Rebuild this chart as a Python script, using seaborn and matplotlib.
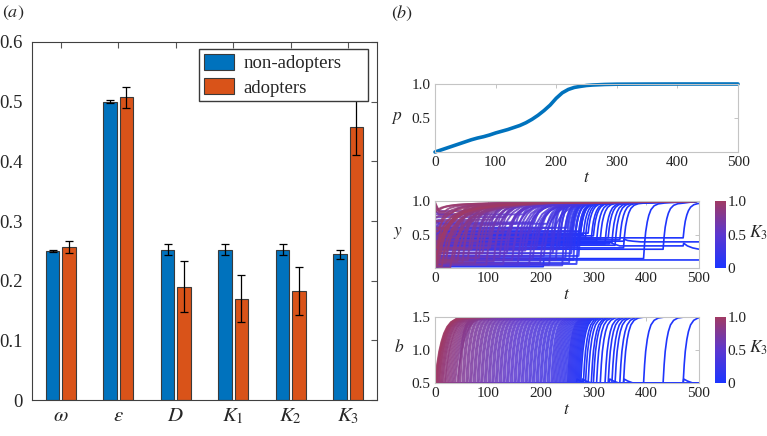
import matplotlib
matplotlib.use("Agg")
import matplotlib.pyplot as plt
import matplotlib.text as mtext
import pandas as pd
import seaborn as sns
from matplotlib.colors import LinearSegmentedColormap, Normalize
from matplotlib.cm import ScalarMappable

sns.set_style("white")
SERIF = ["Liberation Serif", "STIXGeneral", "DejaVu Serif"]
plt.rcParams["font.family"] = SERIF
plt.rcParams["mathtext.fontset"] = "stix"

# ---------------- panel (a) data ----------------
categories = [r"$\omega$", r"$\varepsilon$", r"$D$", r"$K_1$", r"$K_2$", r"$K_3$"]
series_names = ["non-adopters", "adopters"]
non_adopters = [0.250, 0.500, 0.252, 0.252, 0.252, 0.244]
non_adopters_err = [0.002, 0.003, 0.009, 0.009, 0.009, 0.008]
adopters = [0.256, 0.507, 0.190, 0.170, 0.183, 0.457]
adopters_err = [0.010, 0.018, 0.043, 0.040, 0.040, 0.047]
a_yticks = [0, 0.1, 0.2, 0.3, 0.4, 0.5, 0.6]
a_yticklabels = ["0", "0.1", "0.2", "0.3", "0.4", "0.5", "0.6"]

# ---------------- panel (b) top: p(t) ----------------
p_t = [0, 10, 20, 30, 40, 50, 60, 70, 80, 90, 100, 110, 120, 130, 140, 150, 160,
       170, 180, 190, 200, 210, 220, 230, 240, 250, 260, 280, 300, 350, 400, 450, 500]
p_val = [0.0, 0.03, 0.06, 0.09, 0.12, 0.15, 0.18, 0.205, 0.225, 0.25, 0.28, 0.305,
         0.33, 0.36, 0.39, 0.43, 0.48, 0.54, 0.61, 0.69, 0.79, 0.87, 0.92, 0.95,
         0.965, 0.978, 0.985, 0.993, 0.997, 0.999, 1.0, 1.0, 1.0]
t_ticks = [0, 100, 200, 300, 400, 500]

# ---------------- panel (b) trajectories ----------------
# adoption time, K3, initial y, pre-adoption level of y for the dense bundle
mass_T = [0, 1, 2, 3, 4, 6, 7, 9, 11, 13,
          15, 18, 20, 23, 26, 29, 32, 35, 38, 42,
          45, 48, 52, 55, 59, 62, 66, 69, 73, 76,
          80, 83, 87, 90, 94, 97, 101, 104, 108, 111,
          115, 118, 122, 125, 129, 132, 136, 139, 143, 146,
          150, 153, 157, 160, 164, 167, 171, 174, 178, 181,
          185, 188, 192, 195, 199, 202, 206, 209, 213, 216,
          220, 223, 226, 229, 232, 235, 238, 241, 244, 247,
          250, 252, 254, 256, 258, 260, 262, 264, 266, 268,
          270, 272, 274]
mass_K3 = [1.00, 0.98, 0.96, 0.97, 0.94, 0.95, 0.92, 0.93, 0.90, 0.91,
           0.88, 0.89, 0.86, 0.87, 0.84, 0.85, 0.82, 0.83, 0.80, 0.81,
           0.78, 0.79, 0.76, 0.77, 0.74, 0.75, 0.72, 0.73, 0.70, 0.71,
           0.68, 0.69, 0.66, 0.67, 0.64, 0.65, 0.62, 0.63, 0.60, 0.61,
           0.58, 0.59, 0.56, 0.57, 0.54, 0.55, 0.52, 0.53, 0.50, 0.51,
           0.48, 0.49, 0.46, 0.47, 0.44, 0.45, 0.42, 0.43, 0.40, 0.41,
           0.38, 0.39, 0.36, 0.37, 0.34, 0.35, 0.32, 0.33, 0.30, 0.31,
           0.28, 0.29, 0.27, 0.26, 0.25, 0.24, 0.23, 0.22, 0.21, 0.20,
           0.19, 0.18, 0.17, 0.16, 0.15, 0.14, 0.13, 0.12, 0.11, 0.10,
           0.09, 0.08, 0.07]
mass_y0 = [0.02, 0.10, 1.00, 0.30, 0.05, 0.55, 0.98, 0.15, 0.70, 0.03,
           0.40, 0.95, 0.08, 0.25, 0.60, 0.01, 0.85, 0.12, 0.45, 0.04,
           0.35, 0.75, 0.02, 0.20, 0.50, 0.06, 0.90, 0.18, 0.65, 0.03,
           0.30, 0.08, 0.55, 0.14, 0.80, 0.02, 0.40, 0.22, 0.70, 0.05,
           0.28, 0.60, 0.10, 0.45, 0.03, 0.75, 0.16, 0.35, 0.52, 0.07,
           0.25, 0.62, 0.04, 0.42, 0.12, 0.85, 0.20, 0.33, 0.02, 0.48,
           0.09, 0.68, 0.26, 0.38, 0.05, 0.56, 0.14, 0.30, 0.72, 0.03,
           0.44, 0.18, 0.58, 0.08, 0.36, 0.24, 0.50, 0.02, 0.40, 0.12,
           0.62, 0.28, 0.06, 0.46, 0.20, 0.54, 0.10, 0.34, 0.48, 0.04,
           0.30, 0.16, 0.42]
mass_L = [0.02, 0.10, 0.85, 0.30, 0.05, 0.55, 0.86, 0.15, 0.70, 0.03,
          0.40, 0.84, 0.08, 0.25, 0.60, 0.01, 0.82, 0.12, 0.50, 0.10,
          0.45, 0.78, 0.08, 0.30, 0.58, 0.12, 0.85, 0.28, 0.70, 0.08,
          0.40, 0.15, 0.62, 0.22, 0.80, 0.05, 0.48, 0.30, 0.72, 0.10,
          0.36, 0.64, 0.16, 0.52, 0.06, 0.76, 0.22, 0.42, 0.56, 0.12,
          0.32, 0.66, 0.08, 0.46, 0.18, 0.80, 0.26, 0.38, 0.04, 0.52,
          0.14, 0.68, 0.30, 0.42, 0.08, 0.58, 0.18, 0.34, 0.66, 0.05,
          0.46, 0.22, 0.60, 0.12, 0.38, 0.28, 0.52, 0.04, 0.42, 0.15,
          0.60, 0.30, 0.08, 0.48, 0.22, 0.55, 0.12, 0.36, 0.50, 0.06,
          0.32, 0.18, 0.44]

# isolated late adopters (blue lines on the right)
late_T = [276, 281, 285, 290, 296, 300, 306, 313, 322, 328, 335, 341, 350, 357, 395, 432, 470]
late_K3 = [0.06, 0.05, 0.07, 0.04, 0.06, 0.05, 0.03, 0.05, 0.04, 0.06, 0.03, 0.05,
           0.04, 0.03, 0.02, 0.03, 0.02]
late_L = [0.55, 0.50, 0.46, 0.52, 0.44, 0.48, 0.40, 0.43, 0.36, 0.45, 0.38, 0.34,
          0.42, 0.30, 0.14, 0.28, 0.45]

# agents that never adopt (explicit polylines)
never_K3 = [0.04, 0.03, 0.02]
never_y_t = [[0, 8, 357, 358, 365, 375, 390, 500],
             [0, 8, 330, 331, 338, 350, 470, 471, 478, 488, 500],
             [0, 8, 205, 206, 500]]
never_y = [[0.05, 0.40, 0.40, 0.43, 0.41, 0.40, 0.39, 0.39],
           [0.10, 0.36, 0.36, 0.39, 0.36, 0.33, 0.33, 0.37, 0.33, 0.30, 0.28],
           [0.00, 0.02, 0.02, 0.12, 0.12]]
never_b_t = [[0, 268, 269, 275, 285, 357, 358, 365, 375, 500],
             [0, 330, 331, 338, 348, 470, 471, 478, 488, 500],
             [0, 278, 279, 286, 296, 500]]
never_b = [[0.5, 0.5, 0.56, 0.53, 0.5, 0.5, 0.56, 0.53, 0.5, 0.5],
           [0.5, 0.5, 0.56, 0.53, 0.5, 0.5, 0.56, 0.53, 0.5, 0.5],
           [0.5, 0.5, 0.56, 0.53, 0.5, 0.5]]

# rise shapes (time after adoption, fraction of the rise)
b_slow_off = [0, 4, 8, 12, 17, 23, 30, 40, 55, 75]
b_slow_frac = [0, 0.28, 0.48, 0.62, 0.75, 0.85, 0.92, 0.97, 0.99, 1.0]
fast_off = [0, 2, 4, 7, 10, 14, 20, 28, 40]
fast_frac = [0, 0.28, 0.48, 0.66, 0.78, 0.88, 0.95, 0.985, 1.0]
y_slow_off = [0, 5, 10, 20, 35, 55, 80, 120, 180]
y_slow_frac = [0, 0.25, 0.42, 0.6, 0.75, 0.85, 0.91, 0.96, 1.0]
y_med_off = [0, 4, 8, 15, 25, 40, 60, 90]
y_med_frac = [0, 0.3, 0.5, 0.68, 0.82, 0.92, 0.97, 1.0]

BLUE = "#0072BD"
ORANGE = "#D95319"
GRAY = "#c4c4c4"
k3_cmap = LinearSegmentedColormap.from_list("k3", ["#1b35ff", "#5c37cf", "#a03a64"])

W, H = 767, 436
fig = plt.figure(figsize=(W / 100, H / 100), dpi=100)


def rect(x0, y0, x1, y1):
    return [x0 / W, 1 - y1 / H, (x1 - x0) / W, (y1 - y0) / H]


# ================= panel (a) =================
ax_a = fig.add_axes(rect(32, 42, 377, 400))
df = pd.DataFrame({
    "param": categories * 2,
    "value": non_adopters + adopters,
    "group": [series_names[0]] * len(categories) + [series_names[1]] * len(categories),
})
sns.barplot(data=df, x="param", y="value", hue="group", order=categories,
            hue_order=series_names, palette=[BLUE, ORANGE], saturation=1,
            width=0.57, gap=0.19, errorbar=None, edgecolor="#3a3a3a",
            linewidth=0.8, ax=ax_a)
bars = sorted([p for p in ax_a.patches if p.get_width() > 0], key=lambda p: p.get_x())
xs = [p.get_x() + p.get_width() / 2 for p in bars]
ax_a.errorbar(xs[0::2], non_adopters, yerr=non_adopters_err, fmt="none", ecolor="black",
              elinewidth=0.9, capsize=3, capthick=0.9, zorder=5)
ax_a.errorbar(xs[1::2], adopters, yerr=adopters_err, fmt="none", ecolor="black",
              elinewidth=0.9, capsize=3, capthick=0.9, zorder=5)
ax_a.set_xlim(-0.5, 5.5)
ax_a.set_ylim(0, 0.6)
ax_a.set_yticks(a_yticks)
ax_a.set_yticklabels(a_yticklabels)
ax_a.set_xlabel("")
ax_a.set_ylabel("")
ax_a.tick_params(direction="in", top=True, right=True, length=4, width=0.8,
                 color="#555555")
ax_a.tick_params(axis="y", labelsize=13.5, pad=6.5)
ax_a.tick_params(axis="x", labelsize=15, pad=5)
for s in ax_a.spines.values():
    s.set_visible(True)
    s.set_color("#404040")
    s.set_linewidth(0.8)
leg = ax_a.legend(loc="upper left", bbox_to_anchor=(0.484, 0.841, 0.490, 0.139),
                  mode="expand", borderaxespad=0, fancybox=False, framealpha=1,
                  edgecolor="#3a3a3a", fontsize=13.5, handlelength=1.6,
                  handleheight=0.95, handletextpad=0.5, borderpad=0.25,
                  labelspacing=0.3, title=None)
leg.get_frame().set_linewidth(1.0)
leg.set_zorder(10)


def style_small(ax):
    for s in ax.spines.values():
        s.set_visible(True)
        s.set_color(GRAY)
        s.set_linewidth(0.8)
    ax.tick_params(direction="in", top=True, right=True, length=3, width=0.7,
                   color=GRAY, labelsize=11, labelcolor="#222222", pad=3)
    ax.set_xlim(0, 500)
    ax.set_xticks(t_ticks)
    ax.set_xticklabels([str(v) for v in t_ticks])
    ax.set_xlabel("")
    ax.set_ylabel("")


# ================= panel (b) top =================
ax_p = fig.add_axes(rect(435, 84, 738, 152))
sns.lineplot(x=p_t, y=p_val, ax=ax_p, color=BLUE, linewidth=2.6)
for ln in ax_p.lines:
    ln.set_clip_on(False)
style_small(ax_p)
ax_p.set_ylim(0, 1.0)
ax_p.set_yticks([0.5, 1.0])
ax_p.set_yticklabels(["0.5", "1.0"])

# ================= panel (b) middle & bottom =================
ax_y = fig.add_axes(rect(435, 201, 699, 268))
ax_b = fig.add_axes(rect(435, 317, 699, 383))


def rise(t0, v0, v1, offs, fracs):
    return [t0 + o for o in offs], [v0 + (v1 - v0) * f for f in fracs]


records = []
for T, k, y0, L in zip(mass_T, mass_K3, mass_y0, mass_L):
    bt, bv = ([0], [0.5]) if T == 0 else ([0, T], [0.5, 0.5])
    offs, fr = (b_slow_off, b_slow_frac) if k >= 0.8 else (fast_off, fast_frac)
    rt, rv = rise(T, 0.5, 1.5, offs, fr)
    bt += rt[1:]
    bv += rv[1:]
    if bt[-1] < 500:
        bt.append(500)
        bv.append(1.5)
    yt, yv = [0], [y0]
    tl = min(8, T)
    if tl > 0:
        yt.append(tl)
        yv.append(L)
    if T > tl:
        yt.append(T)
        yv.append(L)
    start = L if T > 0 else y0
    if k >= 0.8:
        offs, fr = y_slow_off, y_slow_frac
    elif k >= 0.3:
        offs, fr = y_med_off, y_med_frac
    else:
        offs, fr = fast_off, fast_frac
    rt, rv = rise(T, start, 0.97, offs, fr)
    yt += rt[1:]
    yv += rv[1:]
    if yt[-1] < 500:
        yt.append(500)
        yv.append(1.0)
    records.append((k, yt, yv, bt, bv, 1.4, 0.85))

for T, k, L in zip(late_T, late_K3, late_L):
    bt, bv = [0, T], [0.5, 0.5]
    rt, rv = rise(T, 0.5, 1.5, fast_off, fast_frac)
    bt += rt[1:]
    bv += rv[1:]
    yt, yv = [0, T], [L, L]
    rt, rv = rise(T, L, 0.97, fast_off, fast_frac)
    yt += rt[1:]
    yv += rv[1:]
    if yt[-1] < 500:
        yt.append(500)
        yv.append(1.0)
    records.append((k, yt, yv, bt, bv, 1.2, 1.0))

for k, yt, yv, bt, bv in zip(never_K3, never_y_t, never_y, never_b_t, never_b):
    records.append((k, list(yt), list(yv), list(bt), list(bv), 1.2, 1.0))

records.sort(key=lambda r: r[0])
for k, yt, yv, bt, bv, lw, al in records:
    c = k3_cmap(k)
    ax_y.plot(yt, yv, color=c, lw=lw, alpha=al, solid_capstyle="butt", solid_joinstyle="round")
    ax_b.plot(bt, bv, color=c, lw=lw, alpha=al, solid_capstyle="butt", solid_joinstyle="round")

style_small(ax_y)
ax_y.set_ylim(0, 1.0)
ax_y.set_yticks([0.5, 1.0])
ax_y.set_yticklabels(["0.5", "1.0"])
style_small(ax_b)
ax_b.set_ylim(0.5, 1.5)
ax_b.set_yticks([0.5, 1.0, 1.5])
ax_b.set_yticklabels(["0.5", "1.0", "1.5"])

for cy0, cy1, ky in [(201, 268, 233), (317, 383, 348)]:
    cax = fig.add_axes(rect(715, cy0, 726, cy1))
    cb = fig.colorbar(ScalarMappable(norm=Normalize(0, 1), cmap=k3_cmap), cax=cax)
    cb.set_ticks([0, 0.5, 1.0])
    cb.set_ticklabels(["0", "0.5", "1.0"])
    cb.ax.tick_params(length=0, labelsize=11, pad=1, labelcolor="#222222")
    cb.outline.set_visible(False)
    fig.text(758 / W, 1 - ky / H, r"$K_3$", ha="center", va="center", fontsize=12.5)

for x, y, s in [(397, 118, r"$p$"), (587, 178, r"$t$"), (398, 233, r"$y$"),
                (567, 295, r"$t$"), (399, 347, r"$b$"), (567, 410, r"$t$")]:
    fig.text(x / W, 1 - y / H, s, ha="center", va="center", fontsize=12.5)

fig.text(2 / W, 1 - 13 / H, r"$(a)$", ha="left", va="center", fontsize=13)
fig.text(391 / W, 1 - 13 / H, r"$(b)$", ha="left", va="center", fontsize=13)

for t in fig.findobj(mtext.Text):
    t.set_fontfamily(SERIF)

fig.savefig("out.png", dpi=100)
